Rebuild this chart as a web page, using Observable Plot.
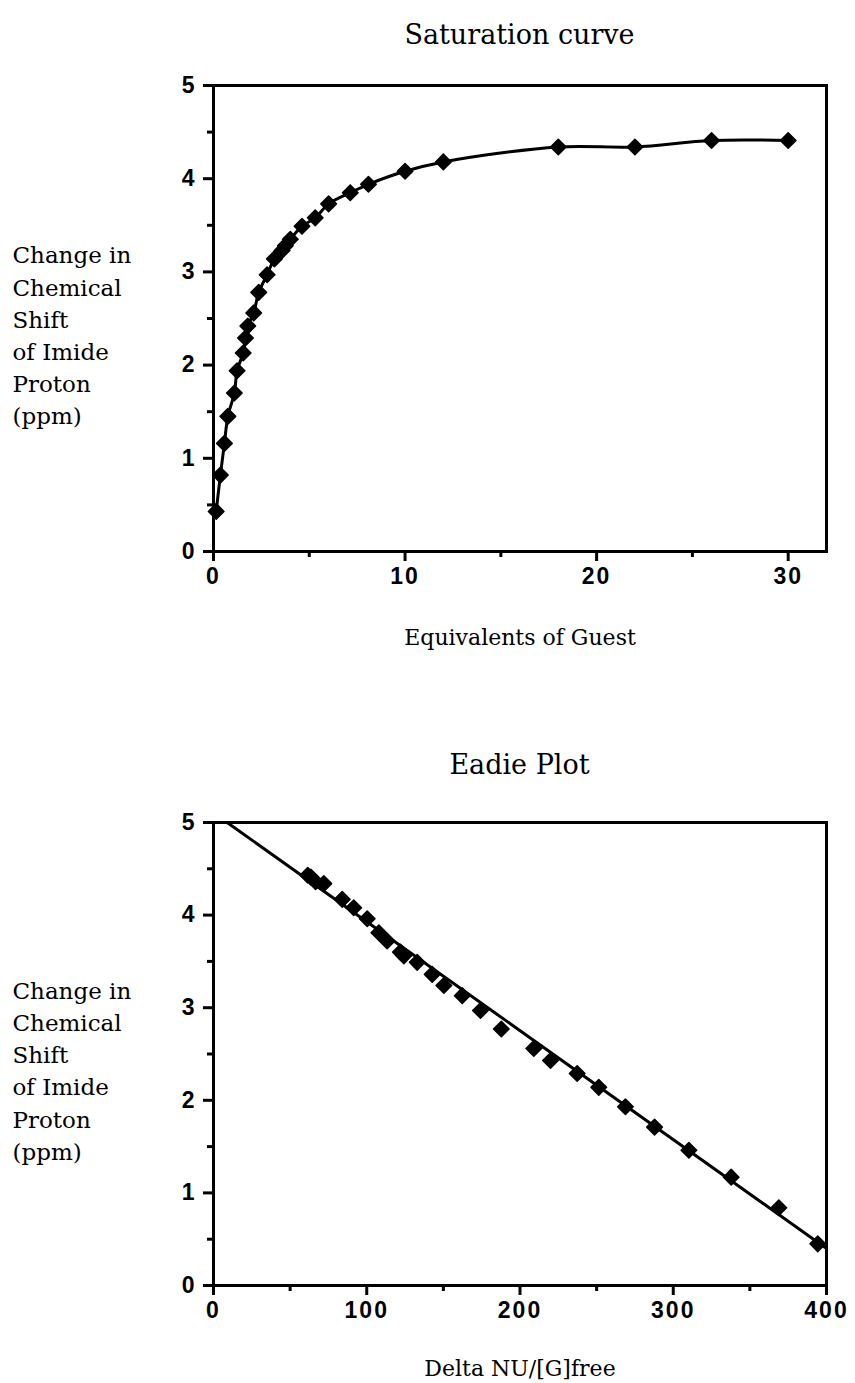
<!DOCTYPE html>
<html>
<head>
<meta charset="utf-8">
<script src="https://cdn.jsdelivr.net/npm/d3@7"></script>
<script src="https://cdn.jsdelivr.net/npm/@observablehq/plot@0.6"></script>
<style>
  html, body { margin: 0; padding: 0; background: #fff; }
  body { position: relative; width: 855px; height: 1383px; overflow: hidden; }
  .title { position: absolute; left: 213px; width: 613px; text-align: center;
           font-family: "DejaVu Serif", serif; font-size: 27px; line-height: 30px; color: #000; }
  .chart { position: absolute; left: 0; }
  g[aria-label="x-axis tick label"] text { letter-spacing: 2px; }
</style>
</head>
<body>
<div class="title" style="top:20px">Saturation curve</div>
<div id="c1" class="chart" style="top:60px"></div>
<div class="title" style="top:750px">Eadie Plot</div>
<div id="c2" class="chart" style="top:797px"></div>
<script>
// ---- Data ----
const satX = [0.14, 0.36, 0.57, 0.75, 1.09, 1.23, 1.55, 1.67, 1.79, 2.10, 2.36, 2.80, 3.18, 3.58, 3.75, 4.01, 4.62, 5.31, 6.01, 7.14, 8.09, 10, 12, 18, 22, 26, 30];
const satY = [0.43, 0.82, 1.16, 1.45, 1.70, 1.94, 2.13, 2.29, 2.42, 2.56, 2.78, 2.97, 3.14, 3.23, 3.28, 3.35, 3.49, 3.58, 3.73, 3.85, 3.94, 4.08, 4.18, 4.34, 4.34, 4.41, 4.41];

const eadX = [61.5, 63.5, 66.6, 72.0, 84.0, 91.5, 100.3, 107.9, 113.3, 122.0, 124.2, 132.9, 142.7, 150.3, 162.3, 174.2, 187.8, 209.0, 219.9, 237.3, 251.4, 268.8, 287.8, 310.2, 337.8, 368.9, 394.3];
const eadY = [4.43, 4.41, 4.36, 4.34, 4.17, 4.08, 3.96, 3.81, 3.72, 3.60, 3.56, 3.49, 3.36, 3.24, 3.13, 2.97, 2.77, 2.56, 2.43, 2.29, 2.14, 1.93, 1.71, 1.46, 1.17, 0.84, 0.45];

const fitX = [8.9, 400];
const fitY = [5.0, 0.40];

const yMajor = [0, 1, 2, 3, 4, 5];
const yMinor = [0.5, 1.5, 2.5, 3.5, 4.5];
const x1Major = [0, 10, 20, 30];
const x1Minor = [5, 15, 25];
const x2Major = [0, 100, 200, 300, 400];
const x2Minor = [50, 150, 250, 350];

const yLabel = "Change in\nChemical\nShift\nof Imide\nProton\n(ppm)";
const x1Label = "Equivalents of Guest";
const x2Label = "Delta NU/[G]free";

// ---- Build ----
const sat = satX.map((x, i) => ({x, y: satY[i]}));
const ead = eadX.map((x, i) => ({x, y: eadY[i]}));
const fit = fitX.map((x, i) => ({x, y: fitY[i]}));

const style = {background: "white", color: "black", fontFamily: "Liberation Sans, Arial, sans-serif", fontSize: "23px", fontWeight: "bold", overflow: "visible"};

function axes(xMajor, xMinor, xLabel, labelDy) {
  return [
    Plot.axisY(yMajor, {label: null, tickSize: 10, tickPadding: 9, strokeWidth: 3, tickFormat: d => String(d)}),
    Plot.axisY(yMinor, {label: null, tickSize: 6, strokeWidth: 3, text: null}),
    Plot.axisX(xMajor, {label: null, tickSize: 10, tickPadding: 6, strokeWidth: 3, tickFormat: d => String(d)}),
    Plot.axisX(xMinor, {label: null, tickSize: 6, strokeWidth: 3, text: null}),
    Plot.frame({strokeWidth: 3}),
    Plot.text([yLabel], {text: d => d, frameAnchor: "left", dx: -201, dy: 15, textAnchor: "start", lineAnchor: "middle",
      lineHeight: 1.4, fontFamily: "DejaVu Serif, serif", fontSize: 23, fontWeight: "normal"}),
    Plot.text([xLabel], {text: d => d, frameAnchor: "bottom", dy: labelDy, lineAnchor: "middle",
      fontFamily: "DejaVu Serif, serif", fontSize: 22, fontWeight: "normal"})
  ];
}

const p1 = Plot.plot({
  width: 855, height: 640,
  marginLeft: 213, marginRight: 29, marginTop: 25, marginBottom: 149,
  style,
  x: {domain: [0, 32], axis: null},
  y: {domain: [0, 5], axis: null},
  marks: [
    ...axes(x1Major, x1Minor, x1Label, 86),
    Plot.line(sat, {x: "x", y: "y", curve: "catmull-rom", stroke: "black", strokeWidth: 3}),
    Plot.dot(sat, {x: "x", y: "y", symbol: "diamond2", r: 7, fill: "black", stroke: "black", strokeWidth: 1.5, strokeLinejoin: "round"})
  ]
});
document.getElementById("c1").append(p1);

const p2 = Plot.plot({
  width: 855, height: 584,
  marginLeft: 213, marginRight: 29, marginTop: 25, marginBottom: 96,
  style,
  x: {domain: [0, 400], axis: null},
  y: {domain: [0, 5], axis: null},
  marks: [
    ...axes(x2Major, x2Minor, x2Label, 83),
    Plot.line(fit, {x: "x", y: "y", stroke: "black", strokeWidth: 3}),
    Plot.dot(ead, {x: "x", y: "y", symbol: "diamond2", r: 7, fill: "black", stroke: "black", strokeWidth: 1.5, strokeLinejoin: "round"})
  ]
});
document.getElementById("c2").append(p2);
</script>
</body>
</html>
